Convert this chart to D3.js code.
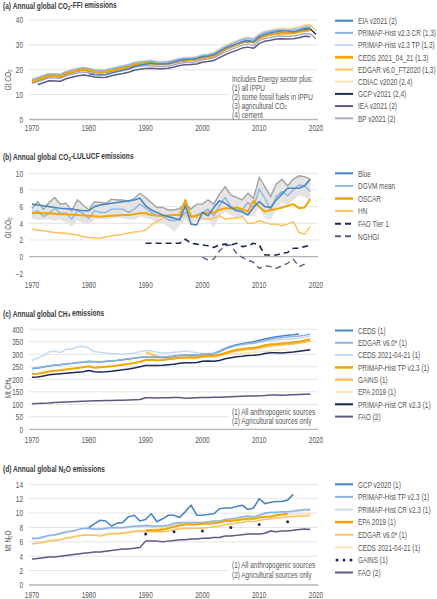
<!DOCTYPE html>
<html><head><meta charset="utf-8">
<script src="https://cdn.jsdelivr.net/npm/d3@7/dist/d3.min.js"></script>
<style>
body{margin:0;background:#fff}
svg{display:block}
text{font-family:"Liberation Sans",Arial,sans-serif;}
</style>
</head><body>
<svg id="chart" width="437" height="599"></svg>
<script>
// ---------------- DATA ----------------
const xTicks = [1970, 1980, 1990, 2000, 2010, 2020];

// (a) CO2-FFI, Gt CO2
const aTicks = [0, 10, 20, 30, 40];
const aEIA = [18.4,18.0,17.9,18.0,18.7,19.3,19.8,20.4,21.3,21.8,22.2,22.7,22.3,22.3,22.5,23.1,23.8,24.1,24.2,24.5,25.2,25.5,26.0,27.3,28.6,29.5,30.4,31.3,31.7,31.3,33.3,34.3,34.9,35.3,35.6,35.6,35.3,35.8,36.5,36.7]; // from 1980
const aPrimapCR = [16.0,16.7,17.5,18.3,18.2,18.1,19.1,19.8,20.3,20.8,20.4,19.9,19.7,19.8,20.4,20.9,21.4,21.9,22.7,23.1,23.3,23.5,23.0,23.0,23.2,23.7,24.3,24.6,24.6,24.9,25.7,25.9,26.5,27.9,29.2,30.2,31.2,32.1,32.6,32.2,33.9,35.0,35.5,35.9,36.0,35.9,36.0,36.4,37.0,37.2]; // from 1970
const aPrimapTP = [16.2,16.9,17.7,18.5,18.4,18.3,19.3,20.0,20.5,21.0,20.6,20.1,19.9,20.0,20.6,21.1,21.6,22.1,22.9,23.3,23.5,23.8,23.3,23.2,23.4,23.9,24.5,24.8,24.8,25.1,25.9,26.1,26.7,28.1,29.4,30.4,31.4,32.3,32.8,32.4,34.1,35.2,35.7,36.1,36.2,36.1,36.2,36.6,37.3,37.5];
const aCEDS = [15.3,16.0,16.8,17.6,17.5,17.4,18.4,19.1,19.6,20.1,19.7,19.2,19.0,19.1,19.7,20.2,20.7,21.2,22.0,22.4,22.6,22.6,22.2,22.3,22.5,23.0,23.5,23.8,23.9,24.2,24.9,25.1,25.6,26.9,28.2,29.2,30.1,31.0,31.5,31.1,32.6,33.6,34.1,34.5,34.6,34.6,34.7,35.2,35.6,35.9];
const aEDGAR = [15.8,16.5,17.3,18.1,18.0,17.9,18.9,19.6,20.1,20.6,20.2,19.7,19.5,19.6,20.2,20.7,21.2,21.7,22.5,22.9,23.1,23.2,22.8,22.9,23.1,23.6,24.2,24.5,24.6,24.9,25.7,26.0,26.6,28.0,29.4,30.5,31.4,32.3,32.8,32.3,34.0,35.2,35.7,36.1,36.3,36.2,36.4,36.9,37.6,37.9,35.9];
const aCDIAC = [16.1,16.8,17.6,18.4,18.3,18.2,19.2,19.9,20.4,20.9,20.5,20.0,19.8,19.9,20.5,21.0,21.5,22.0,22.8,23.2,23.4,23.6,23.2,23.3,23.5,24.0,24.6,25.0,25.0,25.3,26.1,26.4,27.0,28.5,29.8,30.8,31.8,32.7,33.2,32.8,34.5,35.6,36.1,36.6,36.8,36.7,36.9,37.3,38.0,38.2];
const aGCP = [15.2,15.9,16.7,17.5,17.4,17.3,18.3,19.0,19.5,20.0,19.6,19.1,18.9,19.0,19.6,20.1,20.6,21.1,21.9,22.3,22.5,22.6,22.2,22.2,22.4,22.9,23.4,23.7,23.8,24.1,24.8,25.0,25.5,26.8,28.1,29.1,30.0,30.9,31.4,31.0,32.6,33.7,34.2,34.6,34.7,34.7,34.8,35.3,36.1,36.4,34.3];
const aIEA = [14.0,14.8,15.6,15.5,15.4,16.4,17.0,17.5,17.9,17.6,17.1,16.9,17.0,17.6,18.1,18.5,19.0,19.8,20.2,20.5,20.6,20.4,20.4,20.6,21.1,21.7,22.0,22.1,22.3,23.0,23.3,23.7,24.9,26.0,27.0,27.8,28.7,29.1,28.6,30.5,31.5,31.9,32.4,32.5,32.4,32.5,32.9,33.5,33.4]; // from 1971
const aBP = [14.6,15.2,16.0,16.8,16.7,16.6,17.6,18.2,18.7,19.1,18.8,18.3,18.1,18.2,18.8,19.3,19.7,20.2,21.0,21.4,21.6,21.6,21.3,21.3,21.5,22.0,22.6,22.9,22.9,23.2,24.0,24.3,24.7,26.0,27.1,28.1,29.0,29.9,30.3,29.8,31.7,32.6,33.0,33.5,33.6,33.5,33.6,34.0,34.6,34.5,32.3];

// (b) CO2-LULUCF, Gt CO2
const bTicks = [-2, 0, 2, 4, 6, 8, 10];
const bBlue = [6.3,6.2,6.1,6.0,5.9,5.8,5.75,5.7,5.6,5.5,5.5,6.0,6.2,6.3,6.4,6.5,6.6,6.7,6.8,7.0,6.1,5.6,5.3,5.0,4.8,4.6,4.4,6.1,3.9,3.8,5.3,4.9,5.9,6.7,6.4,5.9,5.5,5.4,5.0,5.9,6.6,6.0,5.9,6.8,7.5,8.2,8.2,8.2,8.5,9.3];
const bDGVM = [5.1,5.5,4.8,5.2,5.8,5.2,5.2,4.5,5.5,5.2,4.6,5.5,5.3,5.3,5.7,5.7,5.7,5.3,5.7,6.3,5.8,5.3,4.9,4.9,4.4,4.3,4.6,5.3,4.7,5.0,5.3,5.7,4.9,6.1,7.1,6.0,5.7,5.6,6.5,5.9,8.1,7.0,5.6,7.2,7.8,7.3,8.0,8.6,8.5,7.8];
const bDGVMhigh = [5.8,6.6,5.7,6.5,7.1,6.3,6.4,5.5,6.8,6.2,5.6,6.6,6.5,6.4,6.9,6.8,6.8,6.6,7.0,7.6,7.1,6.5,5.9,5.9,5.6,5.6,5.8,6.3,5.7,6.3,6.3,6.8,6.3,7.5,8.4,7.4,7.1,6.8,7.6,7.0,9.5,8.4,7.2,8.7,9.3,8.5,9.3,9.7,9.6,9.3];
const bDGVMlow = [4.6,4.4,4.4,4.5,4.3,4.4,4.1,3.6,4.4,4.0,3.9,4.5,4.5,4.5,4.6,4.7,4.6,4.5,4.4,4.8,4.6,4.5,4.0,4.0,3.6,3.0,3.7,4.5,3.9,4.3,4.3,4.6,3.5,4.8,5.4,5.0,4.6,4.7,5.0,4.8,5.9,4.6,4.4,5.6,6.5,6.2,6.8,7.3,7.2,6.7];
const bOSCAR = [5.3,5.25,5.2,5.2,5.15,5.1,5.1,5.05,5.0,4.95,4.9,4.85,4.8,4.85,4.9,4.95,5.0,5.0,5.1,5.2,5.2,5.0,4.95,4.9,4.95,5.0,5.0,6.8,4.8,4.9,5.2,5.3,5.3,5.6,5.8,5.8,5.9,5.7,5.4,6.7,6.0,5.4,5.6,5.7,5.9,6.1,6.3,5.8,5.9,6.9];
const bHN = [3.3,3.2,3.1,3.0,2.9,2.85,2.8,2.7,2.6,2.4,2.3,2.25,2.2,2.35,2.5,2.6,2.7,2.85,2.95,3.0,3.2,3.8,4.2,4.6,4.9,5.0,4.9,4.9,4.8,4.7,4.6,4.5,4.6,4.9,4.5,4.6,4.6,4.8,4.0,4.0,4.3,4.1,3.9,3.9,3.7,3.9,4.2,2.9,2.7,3.6];
const bFAO = [1.6,1.6,1.6,1.6,1.6,1.6,1.6,2.1,1.6,1.5,1.4,1.3,1.1,1.4,1.5,1.4,1.6,1.2,1.3,1.6,1.4,0.2,0.2,0.2,0.4,0.5,1.0,1.0,1.2,1.4]; // from 1990
const bNGHGI = [-0.1,-0.4,-0.3,0.7,1.3,1.4,0.4,-0.1,-0.4,-0.7,-1.4,-1.1,-1.2,-1.4,-1.1,-0.8,-0.3,-1.2,-0.9]; // from 2000

// (c) CH4, Mt CH4
const cTicks = [0, 50, 100, 150, 200, 250, 300, 350, 400];
const cCEDS = [242,245,249,253,256,258,261,263,266,268,271,270,269,271,273,275,278,281,284,287,289,289,288,288,290,292,295,297,296,297,299,300,302,311,322,331,338,342,346,350,356,361,366,370,373,376,378,381];
const cEDGAR = [243,246,250,254,257,259,262,264,267,269,272,271,270,272,274,276,279,282,285,288,290,290,289,289,291,293,296,298,297,298,300,301,303,310,320,328,335,339,343,345,350,355,360,364,367,369,371,373,376,380];
const cCEDS21 = [275,285,295,310,312,307,320,320,330,332,325,310,308,305,303,302,300,302,305,310,315,313,308,305,306,308,310,313,310,305,303,303,305,315,325,333,338,340,342,342,348,352,355,357,360,360,362,365,368,372];
const cPrimapTP = [221,222,226,231,234,236,239,242,245,248,252,246,248,250,252,255,258,261,265,270,277,277,276,277,280,283,286,287,288,287,293,294,294,298,305,312,318,321,324,326,330,336,340,341,343,345,348,350,355,360];
const cGAINS = [308,300,292,287,285,284,286,287,287,286,289,290,291,295,302,309,314,317,320,321,325,330,333,336,338,340,342,345,349,353]; // from 1990
const cEPA = [280,285,292,300,310,320]; // 1990-2015, every 5 years
const cPrimapCR = [208,209,213,218,220,222,224,226,228,230,235,230,229,230,232,235,238,241,245,250,255,255,255,256,258,260,264,266,266,267,272,273,272,275,282,286,290,292,295,296,298,303,306,306,305,307,309,312,315,318];
const cFAO = [102,103,104,105,107,108,109,110,111,112,113,114,114,115,115,116,116,117,118,119,126,126,125,126,126,127,127,124,125,126,127,127,128,128,129,130,131,132,133,133,134,135,137,137,136,137,138,139,140,140];

// (d) N2O, Mt N2O
const dTicks = [0, 2, 4, 6, 8, 10, 12, 14];
const dGCP = [8.0,8.5,9.0,8.9,8.2,8.6,8.7,9.5,9.7,8.9,9.1,9.9,8.8,9.2,9.7,9.7,9.4,10.2,11.1,9.7,9.7,9.8,9.9,10.6,10.7,10.7,10.9,11.1,10.5,10.7,12.0,11.3,11.5,11.6,11.6,11.8,12.6]; // from 1980
const dPrimapTP = [6.5,6.5,6.7,6.9,7.0,7.2,7.4,7.5,7.7,7.9,7.9,7.8,7.8,7.9,8.0,8.0,8.0,8.1,8.2,8.2,8.3,8.2,8.2,8.2,8.3,8.6,8.7,8.7,8.7,8.7,8.7,8.8,8.9,8.9,9.1,9.2,9.3,9.5,9.6,9.5,9.7,10.0,10.1,10.1,10.2,10.2,10.3,10.4,10.5,10.5];
const dPrimapCR = [6.4,6.4,6.6,6.8,6.9,7.1,7.3,7.4,7.6,7.8,7.8,7.7,7.7,7.8,7.9,7.9,7.9,8.0,8.1,8.1,8.2,8.1,8.1,8.1,8.2,8.4,8.5,8.5,8.6,8.6,8.6,8.7,8.8,8.8,9.0,9.1,9.2,9.4,9.5,9.4,9.6,9.9,10.0,10.0,10.1,10.1,10.2,10.3,10.4,10.4];
const dEPA = [7.6,7.6,7.6,7.7,7.9,8.1,8.3,8.4,8.4,8.4,8.5,8.5,8.6,8.7,8.9,8.9,9.0,9.1,9.2,9.2,9.4,9.5,9.5,9.7,9.8,9.9]; // 1990-2015
const dEDGAR = [5.7,5.8,5.9,6.1,6.2,6.3,6.5,6.6,6.8,6.9,6.9,6.9,6.8,7.0,7.1,7.1,7.2,7.3,7.4,7.5,7.4,7.4,7.4,7.4,7.5,7.7,7.8,7.9,7.9,7.9,7.9,8.0,8.1,8.2,8.4,8.5,8.6,8.7,8.9,8.8,9.0,9.1,9.2,9.3,9.4,9.5,9.5,9.6,9.6,9.7];
const dCEDS21 = [5.8,5.9,6.0,6.2,6.3,6.4,6.6,6.7,6.9,7.0,7.0,7.0,6.9,7.1,7.2,7.2,7.3,7.4,7.5,7.6,7.6,7.7,7.8,7.9,8.1,8.3,8.4,8.5,8.5,8.5,8.6,8.6,8.7,8.8,8.9,9.0,9.1,9.2,9.3,9.3,9.4,9.5,9.6,9.6,9.7,9.8,9.8,9.9,9.9,10.0];
const dGAINS = [7.1,7.4,7.5,8.0,8.4,8.8]; // 1990-2015, every 5 years
const dFAO = [3.6,3.7,3.8,3.9,3.9,4.0,4.1,4.2,4.3,4.4,4.5,4.6,4.6,4.7,4.8,4.9,5.0,5.0,5.1,5.2,6.1,6.1,6.1,6.0,6.1,6.2,6.3,6.3,6.4,6.4,6.5,6.5,6.6,6.6,6.8,6.8,6.9,7.0,7.1,7.1,7.1,7.2,7.5,7.4,7.5,7.5,7.6,7.7,7.8,7.7];

// ---------------- STYLE ----------------
const C = {
  blue: "#4a86c5", lblue: "#8fb4e0", vlblue: "#c8daf0",
  orange: "#f5a500", lorange: "#fbc25f", vlorange: "#fde3b5",
  navy: "#1e2a55", slate: "#5a5a82", lslate: "#aaa9c9",
  grayLine: "#a3a3a3", band: "#e4e4e4"
};
const FONT = 8.2;
const TITLE_FONT = 8.6;
const TXT = "#555";

const svg = d3.select("#chart");
const x = d3.scaleLinear().domain([1970, 2020]).range([32, 316]);

// measure natural widths to derive the horizontal condensing factors
function measure(str, size, bold) {
  const t = svg.append("text").attr("font-size", size).attr("font-weight", bold ? "bold" : null).text(str);
  const w = t.node().getComputedTextLength();
  t.remove();
  return w;
}
const KX = 78 / measure("PRIMAP-Hist v2.3 CR (1,3)", FONT, false);
const KB = 115 / measure("(a) Annual global CO2-FFI emissions", TITLE_FONT, true);

function pts(start, vals, step = 1) {
  return vals.map((v, i) => ({ yr: start + i * step, v }));
}

// text with {n} subscripts, condensed horizontally
function richText(g, str, px, py, opts = {}) {
  const k = opts.k || KX;
  const rot = opts.rotate ? ` rotate(${opts.rotate})` : "";
  const t = g.append("text")
    .attr("transform", `translate(${px},${py})${rot} scale(${k},1)`)
    .attr("font-size", opts.size || FONT)
    .attr("fill", opts.fill || TXT)
    .attr("text-anchor", opts.anchor || "start")
    .attr("dominant-baseline", "central");
  if (opts.bold) t.attr("font-weight", "bold");
  const parts = str.split(/(\{[^}]+\})/);
  let sub = false;
  parts.forEach(p => {
    if (!p) return;
    if (p.startsWith("{")) {
      t.append("tspan").text(p.slice(1, -1)).attr("font-size", "0.68em").attr("dy", "0.3em");
      sub = true;
    } else {
      const ts = t.append("tspan").text(p);
      if (sub) { ts.attr("dy", "-0.3em"); sub = false; }
    }
  });
  return t;
}

function panel(cfg) {
  const g = svg.append("g");
  const y = d3.scaleLinear().domain(cfg.domain).range(cfg.range);

  richText(g, cfg.title, 3, cfg.titleY, { bold: true, size: TITLE_FONT, fill: "#3a3a3a", k: KB });

  cfg.ticks.forEach(t => {
    if (cfg.noGrid && cfg.noGrid.includes(t)) return;
    g.append("line").attr("x1", 29).attr("x2", 318)
      .attr("y1", y(t)).attr("y2", y(t))
      .attr("stroke", t === 0 ? "#b5b5b5" : "#e4e4e4")
      .attr("stroke-width", t === 0 ? 1.3 : 1);
  });
  cfg.ticks.forEach(t => {
    richText(g, (t < 0 ? "\u2212" + Math.abs(t) : String(t)), 23, y(t), { anchor: "end" });
  });
  xTicks.forEach(t => {
    richText(g, String(t), x(t), cfg.xLabelY, { anchor: "middle" });
  });
  richText(g, cfg.yLabel, 8, cfg.yLabelY, { anchor: "middle", rotate: -90 });

  if (cfg.note) {
    g.append("rect").attr("x", 229).attr("y", cfg.note.box[0]).attr("width", 90)
      .attr("height", cfg.note.box[1] - cfg.note.box[0]).attr("fill", "#fff");
    cfg.note.lines.forEach((l, i) => {
      richText(g, l, 232, cfg.note.y0 + i * cfg.note.step);
    });
  }

  if (cfg.band) {
    const bd = cfg.band.high.map((h, i) => ({ yr: cfg.band.start + i, h, l: cfg.band.low[i] }));
    g.append("path").datum(bd)
      .attr("d", d3.area().x(d => x(d.yr)).y0(d => y(d.l)).y1(d => y(d.h)))
      .attr("fill", C.band);
    g.append("path").datum(bd)
      .attr("d", d3.line().x(d => x(d.yr)).y(d => y(d.h)))
      .attr("fill", "none").attr("stroke", C.grayLine).attr("stroke-width", 1.4);
  }

  cfg.draw.forEach(s => {
    const data = pts(s.start, s.values, s.step || 1);
    if (s.dots) {
      g.selectAll(null).data(data).enter().append("circle")
        .attr("cx", d => x(d.yr)).attr("cy", d => y(d.v)).attr("r", 1.5).attr("fill", s.color);
    } else {
      g.append("path").datum(data)
        .attr("d", d3.line().x(d => x(d.yr)).y(d => y(d.v)))
        .attr("fill", "none").attr("stroke", s.color).attr("stroke-width", s.width || 1.5)
        .attr("stroke-linejoin", "round")
        .attr("stroke-dasharray", s.dash || null);
    }
  });

  cfg.legend.forEach((s, i) => {
    const ly = cfg.legY0 + i * cfg.legStep;
    if (s.dots) {
      [337, 344, 351].forEach(cx => g.append("circle").attr("cx", cx).attr("cy", ly).attr("r", 1.5).attr("fill", s.color));
    } else {
      g.append("line").attr("x1", 335).attr("x2", 353).attr("y1", ly).attr("y2", ly)
        .attr("stroke", s.color).attr("stroke-width", (s.width || 1.5) + 0.5)
        .attr("stroke-dasharray", s.dash || null);
    }
    richText(g, s.name, 358, ly);
  });
}

// ---------------- PANEL A ----------------
{
  const S = {
    eia: { name: "EIA v2021 (2)", start: 1980, values: aEIA, color: C.blue, width: 1.6 },
    pcr: { name: "PRIMAP-Hist v2.3 CR (1,3)", start: 1970, values: aPrimapCR, color: C.lblue, width: 1.5 },
    ptp: { name: "PRIMAP-Hist v2.3 TP (1,3)", start: 1970, values: aPrimapTP, color: C.vlblue, width: 1.5 },
    ceds: { name: "CEDS 2021_04_21 (1,3)", start: 1970, values: aCEDS, color: C.orange, width: 2.3 },
    edgar: { name: "EDGAR v6.0_FT2020 (1,3)", start: 1970, values: aEDGAR, color: C.lorange, width: 1.5 },
    cdiac: { name: "CDIAC v2020 (2,4)", start: 1970, values: aCDIAC, color: C.vlorange, width: 1.5 },
    gcp: { name: "GCP v2021 (2,4)", start: 1970, values: aGCP, color: C.navy, width: 1.5 },
    iea: { name: "IEA v2021 (2)", start: 1971, values: aIEA, color: C.slate, width: 1.5 },
    bp: { name: "BP v2021 (2)", start: 1970, values: aBP, color: C.lslate, width: 1.5 }
  };
  panel({
    domain: [0, 40], range: [119.5, 20], ticks: aTicks,
    title: "(a) Annual global CO{2}-FFI emissions", titleY: 5.8,
    xLabelY: 127.5, yLabel: "Gt CO{2}", yLabelY: 80,
    note: { box: [73, 118.5], y0: 78.5, step: 9,
      lines: ["Includes Energy sector plus:", "(1) all IPPU", "(2) some fossil fuels in IPPU", "(3) agricultural CO{2}", "(4) cement"] },
    draw: [S.cdiac, S.edgar, S.ptp, S.pcr, S.bp, S.iea, S.gcp, S.ceds, S.eia],
    legend: [S.eia, S.pcr, S.ptp, S.ceds, S.edgar, S.cdiac, S.gcp, S.iea, S.bp],
    legY0: 20.7, legStep: 12.2
  });
}

// ---------------- PANEL B ----------------
{
  const S = {
    blue: { name: "Blue", start: 1970, values: bBlue, color: C.blue, width: 1.6 },
    dgvm: { name: "DGVM mean", start: 1970, values: bDGVM, color: C.lblue, width: 1.4 },
    oscar: { name: "OSCAR", start: 1970, values: bOSCAR, color: C.orange, width: 2.0 },
    hn: { name: "HN", start: 1970, values: bHN, color: C.lorange, width: 1.5 },
    fao: { name: "FAO Tier 1", start: 1990, values: bFAO, color: C.navy, width: 1.6, dash: "6,4" },
    ng: { name: "NGHGI", start: 2000, values: bNGHGI, color: C.slate, width: 1.4, dash: "6,4" }
  };
  panel({
    domain: [-2, 10], range: [273.3, 173.3], ticks: bTicks, noGrid: [-2],
    title: "(b) Annual global CO{2}-LULUCF emissions", titleY: 156.7,
    xLabelY: 285, yLabel: "Gt CO{2}", yLabelY: 228,
    band: { start: 1970, high: bDGVMhigh, low: bDGVMlow },
    draw: [S.hn, S.dgvm, S.oscar, S.blue, S.fao, S.ng],
    legend: [S.blue, S.dgvm, S.oscar, S.hn, S.fao, S.ng],
    legY0: 173.3, legStep: 12.6
  });
}

// ---------------- PANEL C ----------------
{
  const S = {
    ceds: { name: "CEDS (1)", start: 1970, values: cCEDS, color: C.blue, width: 1.5 },
    edgar: { name: "EDGAR v6.0* (1)", start: 1970, values: cEDGAR, color: C.lblue, width: 1.5 },
    ceds21: { name: "CEDS 2021-04-21 (1)", start: 1970, values: cCEDS21, color: C.vlblue, width: 1.5 },
    ptp: { name: "PRIMAP-Hist TP v2.3 (1)", start: 1970, values: cPrimapTP, color: C.orange, width: 2.0 },
    gains: { name: "GAINS (1)", start: 1990, values: cGAINS, color: C.lorange, width: 2.0 },
    epa: { name: "EPA 2019 (1)", start: 1990, step: 5, values: cEPA, color: C.vlorange, width: 1.5 },
    pcr: { name: "PRIMAP-Hist CR v2.3 (1)", start: 1970, values: cPrimapCR, color: C.navy, width: 1.6 },
    fao: { name: "FAO (2)", start: 1970, values: cFAO, color: C.slate, width: 1.5 }
  };
  panel({
    domain: [0, 400], range: [429.3, 329.3], ticks: cTicks,
    title: "(c) Annual global CH{4} emissions", titleY: 313.3,
    xLabelY: 440, yLabel: "Mt CH{4}", yLabelY: 388,
    note: { box: [407, 426], y0: 411.2, step: 9.7,
      lines: ["(1) All anthropogenic sources", "(2) Agricultural sources only"] },
    draw: [S.ceds21, S.epa, S.gains, S.ceds, S.edgar, S.ptp, S.pcr, S.fao],
    legend: [S.ceds, S.edgar, S.ceds21, S.ptp, S.gains, S.epa, S.pcr, S.fao],
    legY0: 330.5, legStep: 12.3
  });
}

// ---------------- PANEL D ----------------
{
  const S = {
    gcp: { name: "GCP v2020 (1)", start: 1980, values: dGCP, color: C.blue, width: 1.6 },
    ptp: { name: "PRIMAP-Hist TP v2.3 (1)", start: 1970, values: dPrimapTP, color: C.lblue, width: 1.5 },
    pcr: { name: "PRIMAP-Hist CR v2.3 (1)", start: 1970, values: dPrimapCR, color: C.vlblue, width: 1.5 },
    epa: { name: "EPA 2019 (1)", start: 1990, values: dEPA, color: C.orange, width: 2.0 },
    edgar: { name: "EDGAR v6.0* (1)", start: 1970, values: dEDGAR, color: C.lorange, width: 1.5 },
    ceds21: { name: "CEDS 2021-04-21 (1)", start: 1970, values: dCEDS21, color: C.vlorange, width: 1.5 },
    gains: { name: "GAINS (1)", start: 1990, step: 5, values: dGAINS, color: C.navy, dots: true },
    fao: { name: "FAO (2)", start: 1970, values: dFAO, color: C.slate, width: 1.5 }
  };
  panel({
    domain: [0, 14], range: [585, 484.3], ticks: dTicks,
    title: "(d) Annual global N{2}O emissions", titleY: 469,
    xLabelY: 594.2, yLabel: "Mt N{2}O", yLabelY: 541,
    note: { box: [560, 580], y0: 565, step: 10,
      lines: ["(1) All anthropogenic sources", "(2) Agricultural sources only"] },
    draw: [S.ceds21, S.edgar, S.pcr, S.ptp, S.epa, S.gcp, S.gains, S.fao],
    legend: [S.gcp, S.ptp, S.pcr, S.epa, S.edgar, S.ceds21, S.gains, S.fao],
    legY0: 484.3, legStep: 12.6
  });
}
</script>
</body></html>
